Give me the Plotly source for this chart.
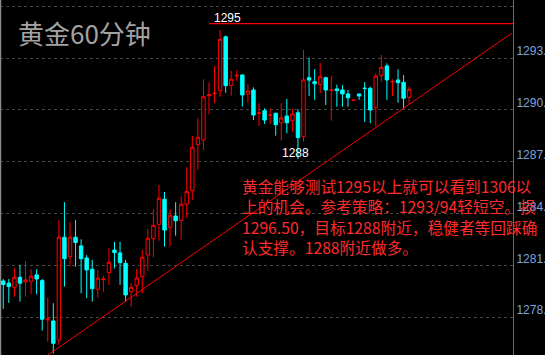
import plotly.graph_objects as go

# 60-minute gold candles (bar index, OHLC)
bar_index = list(range(74))
opens = [1280.10, 1279.97, 1279.73, 1280.31, 1280.04, 1280.08, 1280.45, 1280.12, 1277.84, 1277.78,
         1276.68, 1282.63, 1281.51, 1282.63, 1282.13, 1281.43, 1280.78, 1279.62, 1280.19, 1280.58,
         1281.89, 1281.72, 1281.12, 1279.48, 1279.83, 1280.35, 1281.60, 1282.55, 1283.38, 1284.83,
         1283.19, 1283.86, 1283.61, 1284.54, 1285.33, 1288.01, 1288.26, 1290.83, 1290.94, 1291.12,
         1294.24, 1291.41, 1291.97, 1292.03, 1290.91, 1291.16, 1289.80, 1289.96, 1289.70, 1289.81,
         1289.26, 1289.65, 1289.38, 1289.84, 1288.45, 1291.87, 1291.64, 1291.47, 1291.87, 1291.13,
         1291.22, 1291.16, 1290.93, 1290.55, 1290.93, 1291.26, 1291.26, 1290.13, 1291.99, 1292.55,
         1291.63, 1291.74, 1291.60, 1290.73]
highs = [1280.21, 1280.21, 1280.83, 1281.03, 1281.26, 1280.78, 1280.78, 1280.21, 1279.13, 1278.81,
         1283.63, 1284.66, 1283.52, 1283.63, 1282.51, 1281.60, 1281.32, 1280.74, 1280.39, 1281.99,
         1282.36, 1282.36, 1281.32, 1279.97, 1280.78, 1281.89, 1283.09, 1284.25, 1285.66, 1285.25,
         1284.25, 1284.66, 1284.98, 1286.68, 1288.50, 1289.54, 1291.78, 1291.60, 1292.55, 1294.63,
         1294.30, 1292.26, 1292.32, 1292.06, 1291.49, 1291.31, 1290.39, 1290.10, 1290.10, 1289.84,
         1290.39, 1290.64, 1290.06, 1290.04, 1293.47, 1293.03, 1292.37, 1292.74, 1291.93, 1291.97,
         1291.47, 1291.45, 1291.16, 1290.57, 1290.93, 1291.62, 1291.35, 1292.12, 1293.18, 1292.70,
         1291.78, 1292.36, 1292.03, 1291.35]
lows = [1278.48, 1278.83, 1279.19, 1278.90, 1279.19, 1279.33, 1279.33, 1277.22, 1276.58, 1275.91,
        1276.39, 1279.77, 1280.93, 1280.93, 1279.39, 1279.10, 1278.90, 1279.13, 1279.48, 1279.87,
        1280.83, 1279.87, 1278.90, 1278.61, 1279.19, 1279.39, 1280.70, 1281.47, 1282.43, 1282.09,
        1282.09, 1282.72, 1282.47, 1283.75, 1284.79, 1286.53, 1287.68, 1289.75, 1290.42, 1290.77,
        1291.00, 1290.83, 1291.68, 1290.19, 1290.42, 1289.42, 1289.07, 1289.19, 1289.19, 1288.51,
        1288.22, 1288.65, 1288.74, 1287.16, 1288.15, 1290.81, 1290.58, 1290.97, 1290.29, 1289.38,
        1290.19, 1290.19, 1290.19, 1290.55, 1290.58, 1289.30, 1289.23, 1289.07, 1291.64, 1290.58,
        1290.81, 1290.42, 1290.10, 1290.33]
closes = [1279.89, 1279.77, 1280.31, 1279.97, 1280.16, 1280.37, 1280.21, 1277.88, 1277.90, 1276.49,
          1282.63, 1281.39, 1282.63, 1282.32, 1281.39, 1280.74, 1279.65, 1280.26, 1280.21, 1281.18,
          1281.74, 1281.16, 1279.29, 1279.73, 1280.27, 1281.47, 1282.57, 1283.32, 1284.89, 1283.05,
          1283.90, 1283.59, 1284.54, 1285.28, 1287.84, 1288.42, 1290.77, 1290.89, 1290.97, 1294.09,
          1291.41, 1291.78, 1292.00, 1290.87, 1291.10, 1289.71, 1289.83, 1289.42, 1289.72, 1289.15,
          1289.54, 1289.26, 1289.77, 1288.40, 1291.74, 1291.73, 1291.52, 1291.93, 1291.16, 1291.15,
          1291.12, 1290.93, 1290.71, 1290.57, 1290.81, 1291.25, 1290.00, 1291.97, 1292.47, 1291.74,
          1291.65, 1291.58, 1290.68, 1291.20]

# price axis ticks
tick_values = [1278, 1281, 1284, 1287, 1290, 1293, 1296]
tick_labels = ["1278.", "1281.", "1284.", "1287.", "1290.", "1293.", "1296."]

# resistance level and rising support line
resistance_level = 1295
resistance_x = [37.05, 91.7]
support_x = [7.5, 91.5]
support_y = [1275.69, 1294.46]
support_label_level = 1288

# commentary
title_text = "黄金60分钟"
comment_lines = [
    "黄金能够测试1295以上就可以看到1306以",
    "上的机会。参考策略：1293/94轻短空。损",
    "1296.50，目标1288附近，稳健者等回踩确",
    "认支撑。1288附近做多。",
]

W, H = 545, 355
PLOT_W = 513

fig = go.Figure()
fig.add_trace(go.Candlestick(
    x=bar_index, open=opens, high=highs, low=lows, close=closes,
    increasing=dict(line=dict(color="#ff0000", width=1), fillcolor="#000000"),
    decreasing=dict(line=dict(color="#00ffff", width=1), fillcolor="#00ffff"),
    whiskerwidth=0, hoverinfo="skip", showlegend=False,
))
fig.add_trace(go.Scatter(
    x=resistance_x, y=[resistance_level, resistance_level], mode="lines",
    line=dict(color="#ff0000", width=1.3), hoverinfo="skip", showlegend=False,
))
fig.add_trace(go.Scatter(
    x=support_x, y=support_y, mode="lines",
    line=dict(color="#ff0000", width=1), hoverinfo="skip", showlegend=False,
))

annotations = [
    dict(text=title_text, xref="paper", yref="paper", x=16 / PLOT_W, y=1 - 33 / H,
         xanchor="left", yanchor="middle", showarrow=False,
         font=dict(family="Noto Sans CJK SC", size=26, color="#a3a3a3")),
    dict(text=str(resistance_level), xref="x", yref="y", x=40.3, y=resistance_level,
         xanchor="center", yanchor="middle", yshift=6, showarrow=False,
         font=dict(family="Liberation Sans", size=12, color="#ffffff")),
    dict(text=str(support_label_level), xref="x", yref="y", x=52.5, y=support_label_level,
         xanchor="center", yanchor="middle", yshift=-8, showarrow=False,
         font=dict(family="Liberation Sans", size=12, color="#ffffff")),
    # commentary block, one line per row
    dict(text="<br>".join(comment_lines), xref="paper", yref="paper",
         x=240 / PLOT_W, y=1 - 173 / H, xanchor="left", yanchor="top", align="left",
         showarrow=False,
         font=dict(family="Noto Sans CJK SC", size=15.7, color="#ff2b2b")),
]

fig.update_layout(
    width=W, height=H,
    margin=dict(l=0, r=W - PLOT_W, t=0, b=0, autoexpand=False),
    paper_bgcolor="#000000", plot_bgcolor="#000000",
    boxgap=0.12,
    annotations=annotations,
    shapes=[dict(type="line", xref="paper", yref="paper", x0=0.001, x1=0.001, y0=0, y1=1,
                 line=dict(color="#8a8a8a", width=1.5))],
    xaxis=dict(range=[-0.59, 91.68], showgrid=False, zeroline=False, showticklabels=False,
               ticks="", rangeslider=dict(visible=False), fixedrange=True, automargin=False),
    yaxis=dict(range=[1275.81, 1296.37], side="right", tickvals=tick_values, ticktext=tick_labels,
               showgrid=True, gridcolor="#454545", griddash="dot", gridwidth=1,
               zeroline=False, showline=True, linecolor="#6a6a6a", linewidth=1,
               ticks="", ticklabelstandoff=0, ticklabelshift=-7, automargin=False,
               tickfont=dict(family="Liberation Sans", size=12, color="#79a6dc"),
               fixedrange=True),
    hovermode=False,
)

fig.write_html("out.html", config={"displayModeBar": False})
